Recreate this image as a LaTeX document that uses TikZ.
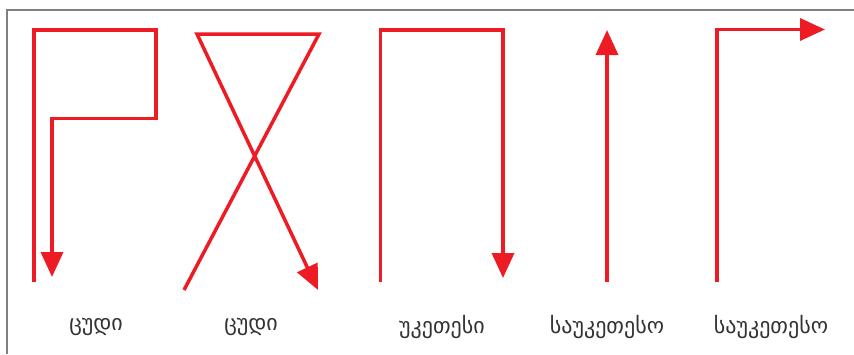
\documentclass[tikz,border=0pt]{standalone}
\usepackage{fontspec}
\newfontfamily\geo{DejaVu Sans}
\usetikzlibrary{arrows.meta}
\definecolor{pathred}{HTML}{ED1C24}
\definecolor{framegray}{HTML}{808080}
\begin{document}
\begin{tikzpicture}[x=1pt,y=-1pt,
  route/.style={draw=pathred,line width=3.5pt,miter limit=10},
  routearrow/.style={route,-{Triangle[length=25pt,width=22pt]}},
  label/.style={font=\geo\fontsize{22}{26}\selectfont,text=black!80,inner sep=0pt}]
\useasboundingbox (0,0) rectangle (854,354);
\draw[framegray,line width=1.5pt] (7,354) -- (7,10) -- (854,10);
% figure 1
\coordinate (a0) at (34,282);
\coordinate (a1) at (34,30);
\coordinate (a2) at (156,30);
\coordinate (a3) at (156,118.5);
\coordinate (a4) at (52,118.5);
\coordinate (a5) at (52,277);
\draw[routearrow] (a0) -- (a1) -- (a2) -- (a3) -- (a4) -- (a5);
% figure 2
\coordinate (b0) at (184,290);
\coordinate (b1) at (319,34);
\coordinate (b2) at (197,34);
\coordinate (b3) at (318,290);
\draw[routearrow] (b0) -- (b1) -- (b2) -- (b3);
% figure 3
\coordinate (c0) at (380.5,282);
\coordinate (c1) at (380.5,30);
\coordinate (c2) at (503,30);
\coordinate (c3) at (503,278);
\draw[routearrow] (c0) -- (c1) -- (c2) -- (c3);
% figure 4
\coordinate (d0) at (607,282);
\coordinate (d1) at (607,30);
\draw[routearrow] (d0) -- (d1);
% figure 5
\coordinate (e0) at (717,282);
\coordinate (e1) at (717,29.5);
\coordinate (e2) at (825,29.5);
\draw[routearrow] (e0) -- (e1) -- (e2);
% labels
\node[label] (l1) at (96,327) {ცუდი};
\node[label] (l2) at (251,327) {ცუდი};
\node[label] (l3) at (442,327) {უკეთესი};
\node[label] (l4) at (607,327) {საუკეთესო};
\node[label] (l5) at (771,327) {საუკეთესო};
\end{tikzpicture}
\end{document}
